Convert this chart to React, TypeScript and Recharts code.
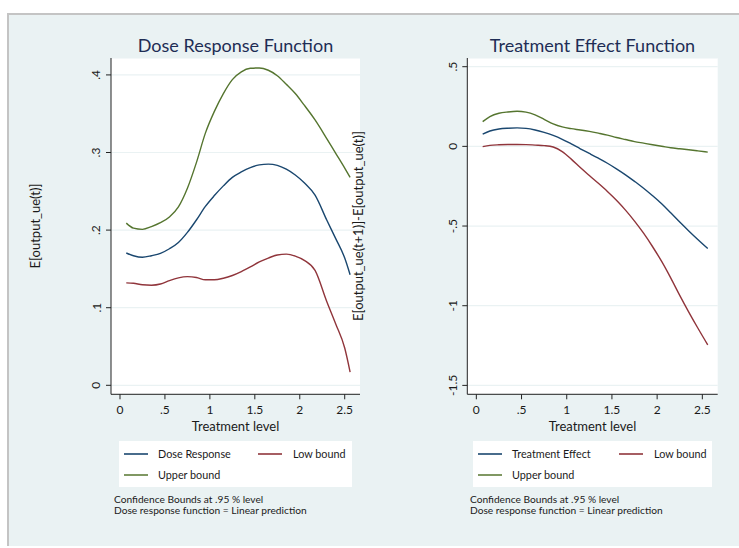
import React from 'react';
import { LineChart, Line, XAxis, YAxis, CartesianGrid } from 'recharts';

// ---- Dose Response Function (left) ----
const doseX = [0.07, 0.15, 0.25, 0.35, 0.45, 0.55, 0.65, 0.75, 0.85, 0.95, 1.05, 1.15, 1.25, 1.35, 1.45, 1.55, 1.65, 1.75, 1.85, 1.95, 2.05, 2.17, 2.3, 2.4, 2.5, 2.56];
const doseResponse = [0.1705, 0.167, 0.165, 0.167, 0.17, 0.176, 0.184, 0.197, 0.213, 0.2305, 0.2445, 0.257, 0.268, 0.275, 0.2805, 0.284, 0.285, 0.2835, 0.2785, 0.271, 0.261, 0.245, 0.213, 0.189, 0.164, 0.1425];
const doseLow = [0.132, 0.1315, 0.1295, 0.129, 0.1305, 0.135, 0.1385, 0.14, 0.139, 0.136, 0.136, 0.138, 0.1415, 0.1465, 0.1525, 0.159, 0.164, 0.168, 0.169, 0.1665, 0.161, 0.148, 0.108, 0.079, 0.048, 0.017];
const doseUpper = [0.209, 0.2025, 0.201, 0.2045, 0.2095, 0.217, 0.23, 0.254, 0.287, 0.325, 0.353, 0.376, 0.394, 0.404, 0.4085, 0.409, 0.406, 0.399, 0.388, 0.376, 0.361, 0.342, 0.318, 0.299, 0.28, 0.268];

// ---- Treatment Effect Function (right) ----
const effectX = [0.07, 0.15, 0.25, 0.35, 0.45, 0.55, 0.65, 0.75, 0.85, 0.95, 1.05, 1.15, 1.25, 1.35, 1.45, 1.55, 1.65, 1.75, 1.85, 1.95, 2.05, 2.15, 2.25, 2.35, 2.45, 2.56];
const treatEffect = [0.0765, 0.0965, 0.109, 0.114, 0.116, 0.113, 0.103, 0.0875, 0.0685, 0.0445, 0.0155, -0.015, -0.0445, -0.0745, -0.106, -0.141, -0.1785, -0.2195, -0.2625, -0.31, -0.3605, -0.417, -0.475, -0.5305, -0.584, -0.641];
const effectLow = [-0.002, 0.006, 0.01, 0.012, 0.012, 0.011, 0.008, 0.005, -0.004, -0.033, -0.08, -0.133, -0.183, -0.232, -0.283, -0.338, -0.4, -0.469, -0.545, -0.63, -0.722, -0.825, -0.935, -1.04, -1.14, -1.246];
const effectUpper = [0.155, 0.187, 0.208, 0.216, 0.22, 0.215, 0.198, 0.17, 0.141, 0.122, 0.111, 0.103, 0.094, 0.083, 0.071, 0.056, 0.043, 0.03, 0.02, 0.01, 0.001, -0.009, -0.015, -0.021, -0.028, -0.036];

// ---- ticks & labels ----
const xTicks = [0, 0.5, 1, 1.5, 2, 2.5];
const doseYTicks = [0, 0.1, 0.2, 0.3, 0.4];
const effectYTicks = [-1.5, -1, -0.5, 0, 0.5];
const xTitle = 'Treatment level';
const doseTitle = 'Dose Response Function';
const effectTitle = 'Treatment Effect Function';
const doseYTitle = 'E[output_ue(t)]';
const effectYTitle = 'E[output_ue(t+1)]-E[output_ue(t)]';
const doseLegend = ['Dose Response', 'Low bound', 'Upper bound'];
const effectLegend = ['Treatment Effect', 'Low bound', 'Upper bound'];
const notes = ['Confidence Bounds at .95 % level', 'Dose response function = Linear prediction'];

const BLUE = '#1a476f';
const RED = '#90353b';
const GREEN = '#55752f';
const BG = '#eaf2f3';
const FONT = 'Lato, "Open Sans", sans-serif';

const doseData = doseX.map((x, i) => ({ x, mid: doseResponse[i], lo: doseLow[i], hi: doseUpper[i] }));
const effectData = effectX.map((x, i) => ({ x, mid: treatEffect[i], lo: effectLow[i], hi: effectUpper[i] }));

const fmt = (v: number) => {
  if (Math.abs(v) < 1e-9) return '0';
  const s = Math.abs(v).toString().replace(/^0\./, '.');
  return (v < 0 ? '-' : '') + s;
};

const YTick = (props: any) => {
  const { x, y, payload } = props;
  const cx = x - 8;
  return (
    <text x={cx} y={y} transform={`rotate(-90 ${cx} ${y})`} textAnchor="middle" dominantBaseline="central"
      fontSize={12} fontFamily={FONT} fill="#1a1a1a">{fmt(payload.value)}</text>
  );
};

const XTick = (props: any) => {
  const { x, y, payload } = props;
  return (
    <text x={x} y={y} dy="0.71em" textAnchor="middle" fontSize={12} fontFamily={FONT} fill="#1a1a1a">{fmt(payload.value)}</text>
  );
};

type PanelProps = {
  data: any[];
  yDomain: [number, number];
  yTicks: number[];
  width: number;
  margin: { top: number; right: number; bottom: number; left: number };
};

const Panel = ({ data, yDomain, yTicks, width, margin }: PanelProps) => (
  <LineChart width={width} height={548} data={data} margin={margin}>
    <CartesianGrid vertical={false} stroke={BG} strokeWidth={1.2} fill="#ffffff" />
    <XAxis dataKey="x" type="number" domain={[-0.1, 2.67]} ticks={xTicks} allowDataOverflow
      height={30} tickSize={5} tickMargin={6.5} stroke="#222" tick={<XTick />} interval={0} />
    <YAxis type="number" domain={yDomain} ticks={yTicks} allowDataOverflow width={30}
      tickSize={5} tickMargin={2} stroke="#222" tick={<YTick />} interval={0} />
    <Line type="monotone" dataKey="mid" stroke={BLUE} strokeWidth={1.4} dot={false} isAnimationActive={false} />
    <Line type="monotone" dataKey="lo" stroke={RED} strokeWidth={1.4} dot={false} isAnimationActive={false} />
    <Line type="monotone" dataKey="hi" stroke={GREEN} strokeWidth={1.4} dot={false} isAnimationActive={false} />
  </LineChart>
);

const LegendBox = ({ x, y, w, labels, col2 }: { x: number; y: number; w: number; labels: string[]; col2: number }) => (
  <g>
    <rect x={x} y={y} width={w} height={46} fill="#ffffff" />
    <line x1={x + 5} x2={x + 29} y1={y + 13} y2={y + 13} stroke={BLUE} strokeWidth={1.6} />
    <text x={x + 39} y={y + 17} fontSize={10.8} fontFamily={FONT} fill="#1a1a1a">{labels[0]}</text>
    <line x1={x + col2} x2={x + col2 + 24} y1={y + 13} y2={y + 13} stroke={RED} strokeWidth={1.6} />
    <text x={x + col2 + 35} y={y + 17} fontSize={10.8} fontFamily={FONT} fill="#1a1a1a">{labels[1]}</text>
    <line x1={x + 5} x2={x + 29} y1={y + 34} y2={y + 34} stroke={GREEN} strokeWidth={2} strokeOpacity={0.75} />
    <text x={x + 39} y={y + 38} fontSize={10.8} fontFamily={FONT} fill="#1a1a1a">{labels[2]}</text>
  </g>
);

export default function App() {
  return (
    <div style={{ position: 'absolute', left: 0, top: 0, width: 739, height: 548, background: '#fff', overflow: 'hidden' }}>
      <svg width={739} height={548} style={{ position: 'absolute', left: 0, top: 0 }}>
        <rect x={8} y={14} width={740} height={532} fill={BG} />
        <line x1={8} x2={739} y1={14} y2={14} stroke="#c4c4c4" strokeWidth={2} />
        <line x1={8} x2={8} y1={13} y2={546} stroke="#c4c4c4" strokeWidth={2} />
      </svg>
      <div style={{ position: 'absolute', left: 0, top: 0 }}>
        <Panel data={doseData} yDomain={[-0.0116, 0.4218]} yTicks={doseYTicks} width={370}
          margin={{ top: 58, right: 10, bottom: 123.7, left: 81 }} />
      </div>
      <div style={{ position: 'absolute', left: 370, top: 0 }}>
        <Panel data={effectData} yDomain={[-1.556, 0.5546]} yTicks={effectYTicks} width={369}
          margin={{ top: 58, right: 21.3, bottom: 123.7, left: 67.3 }} />
      </div>
      <svg width={739} height={548} style={{ position: 'absolute', left: 0, top: 0, pointerEvents: 'none' }}>
        <text x={235.5} y={51.5} textAnchor="middle" fontSize={18} fontFamily={FONT} fill="#1e2d55">{doseTitle}</text>
        <text x={592.5} y={51.5} textAnchor="middle" fontSize={18} fontFamily={FONT} fill="#1e2d55">{effectTitle}</text>
        <text x={235.5} y={430.5} textAnchor="middle" fontSize={13} fontFamily={FONT} fill="#1a1a1a">{xTitle}</text>
        <text x={592.5} y={430.5} textAnchor="middle" fontSize={13} fontFamily={FONT} fill="#1a1a1a">{xTitle}</text>
        <text x={35} y={226} transform="rotate(-90 35 226)" textAnchor="middle" dominantBaseline="central" fontSize={13} fontFamily={FONT} fill="#1a1a1a">{doseYTitle}</text>
        <text x={358} y={226} transform="rotate(-90 358 226)" textAnchor="middle" dominantBaseline="central" fontSize={13} fontFamily={FONT} fill="#1a1a1a">{effectYTitle}</text>
        <LegendBox x={119} y={441} w={233} labels={doseLegend} col2={139} />
        <LegendBox x={473} y={441} w={239} labels={effectLegend} col2={146} />
        {notes.map((n, i) => (
          <text key={'l' + i} x={114} y={503 + i * 10.5} fontSize={10.2} fontFamily={FONT} fill="#1a1a1a">{n}</text>
        ))}
        {notes.map((n, i) => (
          <text key={'r' + i} x={470} y={503 + i * 10.5} fontSize={10.2} fontFamily={FONT} fill="#1a1a1a">{n}</text>
        ))}
      </svg>
    </div>
  );
}
